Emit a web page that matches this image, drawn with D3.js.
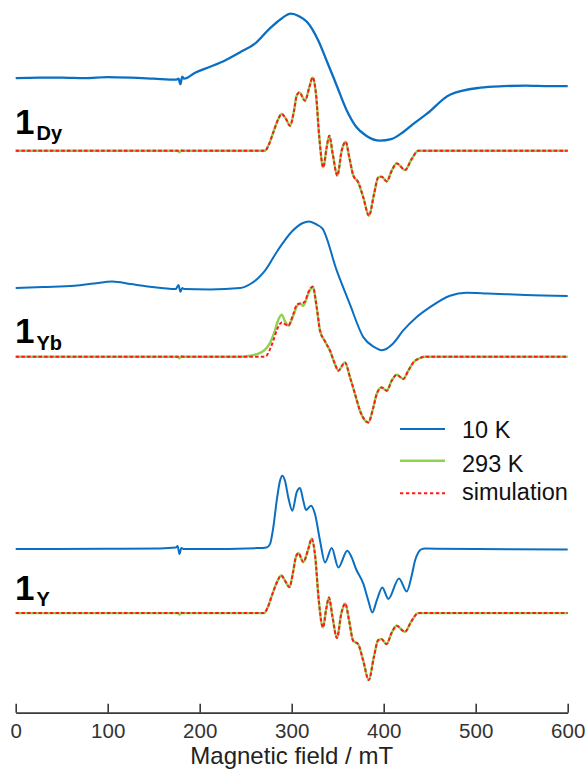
<!DOCTYPE html>
<html>
<head>
<meta charset="utf-8">
<script src="https://cdn.jsdelivr.net/npm/d3@7"></script>
<style>
  html, body { margin: 0; padding: 0; background: #fff; }
  svg { display: block; font-family: "Liberation Sans", Arial, Helvetica, sans-serif; }
</style>
</head>
<body>
<svg id="chart" width="585" height="777"></svg>
<script>
// EPR spectra of 1Dy, 1Yb and 1Y: 10 K (blue), 293 K (green) and simulation (red dashed).
// Each series: [magnetic field / mT, intensity / a.u. relative to its own baseline]

const fieldTicks = [0, 100, 200, 300, 400, 500, 600];

const dy10K = [
  [0, 0], [25, 0.5], [50, 0.5], [75, 0], [100, 1], [125, 0.5], [150, -0.5], [174, -1.5],
  [177, -0.5], [179, -6], [181, 1.5], [183, -0.5], [195, 5.5], [210, 11], [227, 17.5],
  [244, 26], [260, 34.5], [276, 49.5], [288, 59], [299, 64.5], [308, 62], [317, 56],
  [329, 37.5], [338, 17.5], [349, -7.5], [360, -32.5], [370, -48.5], [381, -57.5],
  [396, -62.5], [408, -61], [421, -54], [434, -44.5], [447, -35.5], [472, -16.5],
  [505, -9.5], [530, -8], [554, -7.5], [580, -8], [600, -8]
];

const dySim = [
  [0, 0], [271, 0], [274.6, 5], [280, 18.3], [285.4, 31.7], [289.1, 36.7], [293.8, 31.7],
  [298.2, 25], [302.5, 40], [305.4, 55], [308.3, 58.3], [314.5, 50], [319.1, 63.3],
  [322.8, 73.3], [326.4, 56.7], [330, 13.3], [334.3, -16.7], [338, 3.3], [340.9, 15],
  [344.6, -3.3], [349.6, -25], [354.3, 0], [358.7, 9], [362.6, -6.7], [367, -25],
  [372.4, -31.7], [377.8, -46.7], [384, -65], [389.5, -43.3], [394.1, -26.7], [397.8, -26],
  [403.3, -30.7], [408.7, -20], [414.1, -12.7], [423.2, -19.3], [430.4, -8.3],
  [437.6, 0], [600, 0]
];

const dy293K = [
  [0, 0], [176, 0], [178, -1.5], [180, 0.5], [182, 0], [271, 0], [274.6, 5], [280, 18.3],
  [285.4, 31.7], [289.1, 36.7], [293.8, 31.7], [298.2, 25], [302.5, 40], [305.4, 55],
  [308.3, 58.3], [314.5, 50], [319.1, 63.3], [322.8, 73.3], [326.4, 56.7], [330, 13.3],
  [334.3, -16.7], [338, 3.3], [340.9, 15], [344.6, -3.3], [349.6, -25], [354.3, 0],
  [358.7, 9], [362.6, -6.7], [367, -25], [372.4, -31.7], [377.8, -46.7], [384, -65],
  [389.5, -43.3], [394.1, -26.7], [397.8, -26], [403.3, -30.7], [408.7, -20],
  [414.1, -12.7], [423.2, -19.3], [430.4, -8.3], [437.6, 0], [600, 0]
];

const yb10K = [
  [0, 0], [30, 1], [64, 2.3], [85, 4.5], [105, 6.6], [125, 4], [146, 1.3], [174, -1],
  [177, 3], [179, -3.7], [181, 0], [183, -1], [211, -1.4], [244, 0], [255, 4], [264, 10.3],
  [271, 17.3], [284.6, 37.3], [301, 57.3], [311, 64.5], [319, 66.6], [326, 64], [333.5, 59.3],
  [349, 17.3], [363, -15.7], [378, -49.4], [389, -58.7], [398, -62.2], [410, -55.7],
  [421, -42.7], [435, -29.7], [450, -19.4], [472, -7.7], [490, -4.7], [513, -5.4],
  [554, -7], [600, -8]
];

const ybSim = [
  [0, 0], [271, 0], [275.7, 6], [280, 16], [284.3, 27.7], [289.1, 34.3], [293.8, 32],
  [296.3, 31], [301.7, 42.7], [306.1, 52.7], [310.9, 53.3], [314.5, 55.3], [318, 64.3],
  [322.8, 70], [327.2, 49.3], [330.8, 26], [336.2, 15.3], [341.6, 6], [347, -7.3],
  [350.7, -14], [357.9, -5.7], [363.4, -20.7], [368.8, -37.3], [374.2, -54], [383.3, -65.7],
  [388.7, -50.7], [392.4, -37.3], [397.8, -30.7], [403.3, -34], [408.7, -24], [414.1, -18],
  [421.3, -22.3], [426.7, -14], [432.2, -5.7], [439.5, -1.3], [445, 0], [600, 0]
];

const yb293K = [
  [0, 0], [176, 0], [178, -1.5], [180, 0.5], [182, 0], [245, 0], [255, 1], [262, 2.5],
  [268, 5], [273, 9], [277, 15], [281, 24], [285, 36], [289.1, 42], [293, 35], [296.3, 31],
  [301.7, 41], [306, 51], [309, 53.3], [312.6, 51], [318, 63], [322.8, 70], [327.2, 49.3],
  [330.8, 26], [336.2, 15.3], [341.6, 6], [347, -7.3], [350.7, -14], [357.9, -5.7],
  [363.4, -20.7], [368.8, -37.3], [374.2, -54], [383.3, -65.7], [388.7, -50.7],
  [392.4, -37.3], [397.8, -30.7], [403.3, -34], [408.7, -24], [414.1, -18], [421.3, -22.3],
  [426.7, -14], [432.2, -5.7], [439.5, -1.3], [445, 0], [600, 0]
];

const y10K = [
  [0, 0], [100, 0.3], [157, 0.7], [174, 1.5], [176, 3], [178, -5], [180, 1], [183, 0],
  [200, 0], [262, 1], [272.8, 1.7], [276.4, 5], [280, 21.7], [283.7, 48.4], [287.3, 68.4],
  [289.8, 73.4], [292.7, 68.4], [296.3, 51.7], [300.7, 38.4], [305.4, 56.7], [309, 61.1],
  [312.6, 48.4], [315.5, 39.1], [321, 43.4], [325.3, 35], [330.8, 8.4], [336.2, -13.3],
  [343.5, 1.1], [350.7, -18.3], [360.4, -1.6], [365.2, -8.3], [369.9, -19.9],
  [377.8, -34.6], [383.3, -51.6], [387.6, -63.3], [392.4, -51.6], [398.5, -38.3],
  [405, -49.9], [416.6, -29.3], [425, -42.3], [430.4, -26.6], [434, -11.6],
  [437.6, -3.3], [441.3, 0], [445, 0.5], [500, 0.2], [600, -0.5]
];

const ySim = [
  [0, 0], [270, 0], [273.6, 5], [279, 19], [284.5, 32], [288.5, 37.7], [293, 32],
  [297.5, 26], [301.5, 41], [304.5, 56], [307.3, 60], [312.6, 51], [318, 64],
  [321.7, 74.4], [325.5, 57], [329.5, 12], [334, -14.4], [337.5, 4], [340.5, 15.6],
  [344.2, -3], [349.2, -25], [354, 0], [358.3, 9.6], [362.3, -7], [366.8, -27.7],
  [372.2, -31], [377.6, -47], [383.8, -67], [389.3, -44], [394, -27], [397.6, -26],
  [403, -31], [408.5, -20], [414, -12.7], [423, -18.7], [430.2, -8], [437.4, 0], [600, 0]
];

const y293K = [
  [0, 0], [176, 0], [178, -1.5], [180, 0.5], [182, 0], [270, 0], [273.6, 5], [279, 19],
  [284.5, 32], [288.5, 37.7], [293, 32], [297.5, 26], [301.5, 41], [304.5, 56], [307.3, 60],
  [312.6, 51], [318, 64], [321.7, 74.4], [325.5, 57], [329.5, 12], [334, -14.4],
  [337.5, 4], [340.5, 15.6], [344.2, -3], [349.2, -25], [354, 0], [358.3, 9.6],
  [362.3, -7], [366.8, -27.7], [372.2, -31], [377.6, -47], [383.8, -67], [389.3, -44],
  [394, -27], [397.6, -26], [403, -31], [408.5, -20], [414, -12.7], [423, -18.7],
  [430.2, -8], [437.4, 0], [600, 0]
];

const legendLabels = ["10 K", "293 K", "simulation"];

// ---- layout ----
const svg = d3.select("#chart");
const axisY = 712.7;

const x = d3.scaleLinear().domain([0, 600]).range([15.7, 567.7]);
const y = d3.scaleLinear().domain([0, axisY]).range([axisY, 0]);

// vertical stacking offsets (a.u.) for each trace
const stack = [
  { name: "Dy", low: dy10K, room: dy293K, sim: dySim, offBlue: 634.5, offSim: 562, labelY: 133.5 },
  { name: "Yb", low: yb10K, room: yb293K, sim: ybSim, offBlue: 424.7, offSim: 356, labelY: 343 },
  { name: "Y",  low: y10K,  room: y293K,  sim: ySim,  offBlue: 163.6, offSim: 99.6, labelY: 599.5 }
];

const styles = {
  low:  { stroke: "#0a6fc2", width: 2, dash: null },
  room: { stroke: "#8fd150", width: 2.4, dash: null },
  sim:  { stroke: "#ff1a1a", width: 2, dash: "3.5,2.2" }
};

function lineFor(offset) {
  return d3.line()
    .x(d => x(d[0]))
    .y(d => y(offset + d[1]))
    .curve(d3.curveMonotoneX);
}

const traces = svg.append("g").attr("fill", "none").attr("stroke-linejoin", "round");

stack.forEach(s => {
  traces.append("path").datum(s.low)
    .attr("d", lineFor(s.offBlue))
    .attr("stroke", styles.low.stroke)
    .attr("stroke-width", s.name === "Dy" ? 2.3 : styles.low.width);
  traces.append("path").datum(s.room)
    .attr("d", lineFor(s.offSim))
    .attr("stroke", styles.room.stroke).attr("stroke-width", styles.room.width);
  traces.append("path").datum(s.sim)
    .attr("d", lineFor(s.offSim))
    .attr("stroke", styles.sim.stroke).attr("stroke-width", styles.sim.width)
    .attr("stroke-dasharray", styles.sim.dash);
});

// sample labels: 1 with subscript lanthanide
stack.forEach(s => {
  const t = svg.append("text")
    .attr("x", 15).attr("y", s.labelY)
    .attr("font-size", 35).attr("font-weight", "bold").attr("fill", "#000");
  t.append("tspan").text("1");
  t.append("tspan").attr("dx", 2).attr("dy", 6.7)
    .attr("font-size", 20).text(s.name);
});

// legend
const legend = svg.append("g");
const legendRows = [
  { key: "low", lineY: 429, textY: 437.5 },
  { key: "room", lineY: 460.7, textY: 472.3 },
  { key: "sim", lineY: 493.3, textY: 500 }
];
legendRows.forEach((r, i) => {
  const st = styles[r.key];
  legend.append("line")
    .attr("x1", 400).attr("x2", 445).attr("y1", r.lineY).attr("y2", r.lineY)
    .attr("stroke", st.stroke).attr("stroke-width", st.width)
    .attr("stroke-dasharray", r.key === "sim" ? "3.3,2.7" : null);
  legend.append("text")
    .attr("x", 462).attr("y", r.textY)
    .attr("font-size", 23.5).attr("fill", "#111")
    .text(legendLabels[i]);
});

// field axis with inward ticks
const axis = svg.append("g")
  .attr("transform", `translate(0,${axisY})`)
  .call(d3.axisBottom(x).tickValues(fieldTicks).tickSizeInner(-9).tickSizeOuter(0).tickPadding(0));

axis.select(".domain").attr("stroke", "#3a3a3a").attr("stroke-width", 1.8);
axis.selectAll(".tick line").attr("stroke", "#3a3a3a").attr("stroke-width", 1.6);
axis.selectAll(".tick text")
  .attr("y", 25).attr("dy", null)
  .attr("font-size", 20.5).attr("fill", "#333")
  .attr("font-family", "\"Liberation Sans\", Arial, sans-serif");

svg.append("text")
  .attr("x", (x(0) + x(600)) / 2).attr("y", 764)
  .attr("text-anchor", "middle")
  .attr("font-size", 24).attr("fill", "#222")
  .text("Magnetic field / mT");
</script>
</body>
</html>
